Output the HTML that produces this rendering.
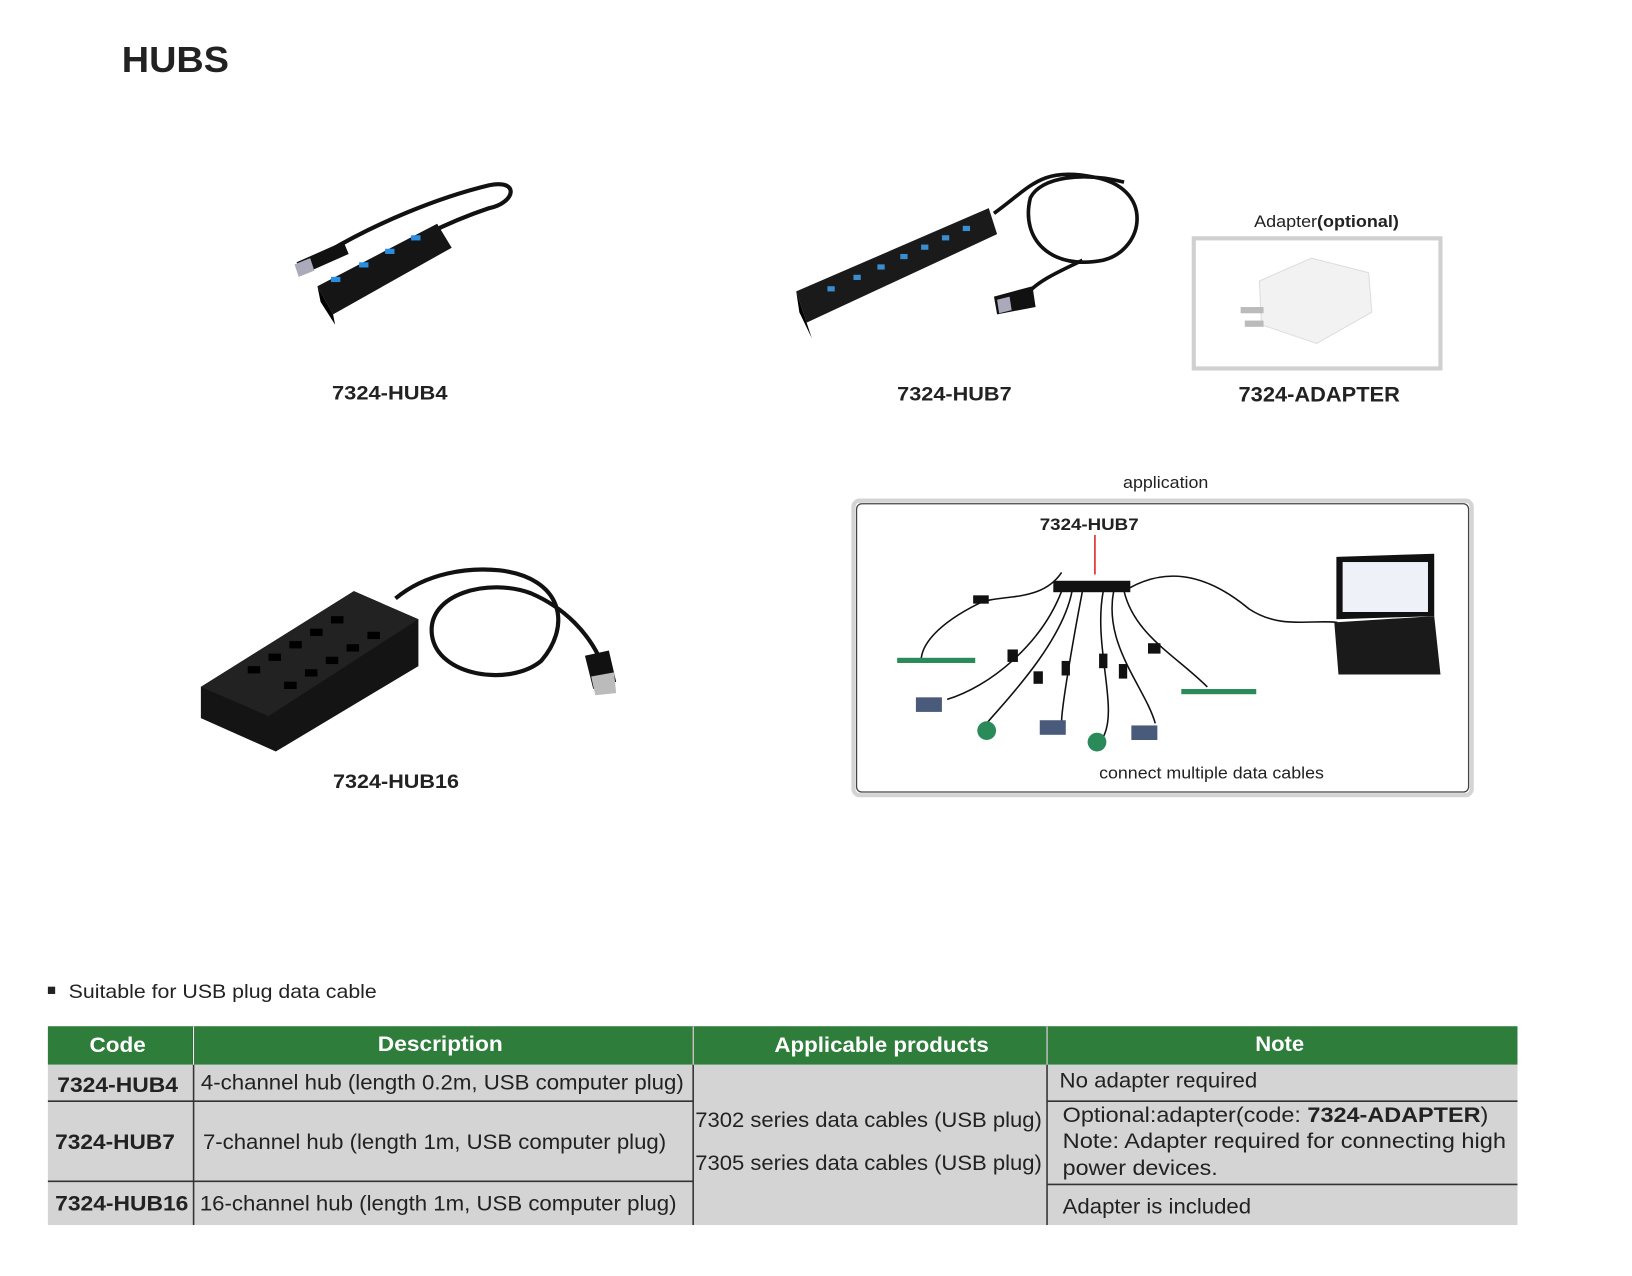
<!DOCTYPE html>
<html><head><meta charset="utf-8"><style>
html,body{margin:0;padding:0;background:#fff;width:1632px;height:1276px;overflow:hidden}
svg{display:block}
text{font-family:"Liberation Sans",Arial,sans-serif}
</style></head><body>
<svg width="1632" height="1276" viewBox="0 0 1632 1276" xmlns="http://www.w3.org/2000/svg">
<g transform="scale(1.0408)">
<text x="117" y="69" font-size="35" font-weight="bold" fill="#222" textLength="103" lengthAdjust="spacingAndGlyphs">HUBS</text>

<!-- HUB4 -->
<path d="M315,242 C360,215 420,190 470,178 C500,172 495,195 470,200 C440,210 420,220 410,225" fill="none" stroke="#111" stroke-width="4"/>
<polygon points="285,252 330,232 335,244 290,264" fill="#111"/>
<polygon points="283,254 298,248 302,260 287,266" fill="#aab"/>
<polygon points="305,275 420,215 434,238 320,302" fill="#151515"/>
<polygon points="305,275 320,302 322,312 308,290" fill="#000"/>
<g fill="#2a8ee0"><rect x="318" y="266" width="9" height="5"/><rect x="345" y="252" width="9" height="5"/><rect x="370" y="239" width="9" height="5"/><rect x="395" y="226" width="9" height="5"/></g>
<text x="319" y="384" font-size="19" font-weight="bold" fill="#222" textLength="111" lengthAdjust="spacingAndGlyphs">7324-HUB4</text>

<!-- HUB7 -->
<path d="M955,205 C990,180 1000,160 1050,170 C1110,180 1100,240 1060,250 C1010,260 980,230 990,190 C1000,170 1040,165 1080,175 M1040,250 C1020,260 995,270 985,285" fill="none" stroke="#111" stroke-width="3.5"/>
<polygon points="955,285 992,275 995,295 958,302" fill="#111"/>
<polygon points="958,288 970,285 972,298 960,301" fill="#aab"/>
<polygon points="765,280 950,200 958,225 775,310" fill="#1a1a1a"/>
<polygon points="765,280 775,310 780,325 768,300" fill="#000"/>
<g fill="#3a8ed0"><rect x="795" y="275" width="7" height="5"/><rect x="820" y="264" width="7" height="5"/><rect x="843" y="254" width="7" height="5"/><rect x="865" y="244" width="7" height="5"/><rect x="885" y="235" width="7" height="5"/><rect x="905" y="226" width="7" height="5"/><rect x="925" y="217" width="7" height="5"/></g>
<text x="862" y="385" font-size="19" font-weight="bold" fill="#222" textLength="110" lengthAdjust="spacingAndGlyphs">7324-HUB7</text>

<!-- Adapter -->
<text x="1205" y="218" font-size="16" fill="#222" textLength="139" lengthAdjust="spacingAndGlyphs">Adapter<tspan font-weight="bold">(optional)</tspan></text>
<rect x="1147" y="229" width="237" height="125" fill="#fff" stroke="#d0d0d0" stroke-width="4"/>
<polygon points="1210,270 1260,248 1315,262 1318,300 1265,330 1212,312" fill="#f2f2f2" stroke="#ddd"/>
<rect x="1192" y="295" width="22" height="6" fill="#bbb"/><rect x="1196" y="308" width="18" height="6" fill="#bbb"/>
<text x="1190" y="386" font-size="20" font-weight="bold" fill="#222" textLength="155" lengthAdjust="spacingAndGlyphs">7324-ADAPTER</text>

<!-- HUB16 -->
<path d="M380,575 C410,550 450,545 480,548 C540,555 550,600 520,635 C490,660 420,650 415,610 C410,570 470,555 510,570 C545,585 565,610 575,630" fill="none" stroke="#111" stroke-width="4"/>
<polygon points="562,630 585,625 592,655 570,662" fill="#111"/>
<polygon points="568,650 590,646 592,666 572,668" fill="#bbb"/>
<polygon points="193,660 340,568 402,595 402,640 265,722 193,690" fill="#141414"/>
<polygon points="193,660 340,568 402,595 258,688" fill="#222"/>
<g fill="#000">
<rect x="238" y="640" width="12" height="7"/><rect x="258" y="628" width="12" height="7"/><rect x="278" y="616" width="12" height="7"/><rect x="298" y="604" width="12" height="7"/><rect x="318" y="592" width="12" height="7"/>
<rect x="273" y="655" width="12" height="7"/><rect x="293" y="643" width="12" height="7"/><rect x="313" y="631" width="12" height="7"/><rect x="333" y="619" width="12" height="7"/><rect x="353" y="607" width="12" height="7"/>
</g>
<text x="320" y="757" font-size="19" font-weight="bold" fill="#222" textLength="121" lengthAdjust="spacingAndGlyphs">7324-HUB16</text>

<!-- application -->
<text x="1079" y="469" font-size="16" fill="#222" textLength="82" lengthAdjust="spacingAndGlyphs">application</text>
<rect x="820" y="481" width="594" height="283" rx="6" fill="#fff" stroke="#d4d4d4" stroke-width="4"/>
<rect x="823" y="484" width="588" height="277" rx="5" fill="none" stroke="#444" stroke-width="1.2"/>
<text x="999" y="509" font-size="16" font-weight="bold" fill="#222" textLength="95" lengthAdjust="spacingAndGlyphs">7324-HUB7</text>
<line x1="1052" y1="514" x2="1052" y2="552" stroke="#e02020" stroke-width="1.5"/>
<g fill="none" stroke="#111" stroke-width="1.5">
<path d="M1020,550 C1000,580 960,570 940,580 C900,600 885,620 885,635"/>
<path d="M1020,568 C1000,620 950,660 910,672"/>
<path d="M1030,568 C1020,620 960,680 948,695"/>
<path d="M1040,568 C1030,620 1020,680 1020,693"/>
<path d="M1060,568 C1050,620 1075,680 1060,708"/>
<path d="M1070,568 C1060,620 1100,660 1110,695"/>
<path d="M1080,568 C1090,610 1130,630 1160,660"/>
<path d="M1085,565 C1130,540 1170,560 1200,585 C1230,605 1260,595 1285,598"/>
</g>
<rect x="1012" y="558" width="74" height="11" fill="#111"/>
<g fill="#111"><rect x="935" y="572" width="15" height="8"/><rect x="968" y="624" width="10" height="12"/><rect x="993" y="645" width="9" height="12"/><rect x="1020" y="635" width="8" height="14"/><rect x="1056" y="628" width="8" height="14"/><rect x="1075" y="638" width="8" height="14"/><rect x="1103" y="618" width="12" height="10"/></g>
<g fill="#2a8a5a"><rect x="862" y="632" width="75" height="5"/><rect x="1135" y="662" width="72" height="5"/><circle cx="948" cy="702" r="9"/><circle cx="1054" cy="713" r="9"/></g>
<g fill="#4a5a7a"><rect x="880" y="670" width="25" height="14"/><rect x="999" y="692" width="25" height="14"/><rect x="1087" y="697" width="25" height="14"/></g>
<polygon points="1284,535 1378,532 1378,592 1284,595" fill="#111"/>
<rect x="1290" y="540" width="82" height="48" fill="#eef2f8"/>
<polygon points="1282,598 1378,592 1384,648 1286,648" fill="#1a1a1a"/>
<text x="1056" y="748" font-size="16" fill="#222" textLength="216" lengthAdjust="spacingAndGlyphs">connect multiple data cables</text>

<!-- bullet -->
<rect x="46" y="948" width="7" height="7" fill="#222"/>
<text x="66" y="959" font-size="19" fill="#222" textLength="296" lengthAdjust="spacingAndGlyphs">Suitable for USB plug data cable</text>

<!-- table -->
<rect x="46" y="986" width="1412" height="37" fill="#2e7d3a"/>
<rect x="46" y="1023" width="1412" height="154" fill="#d4d4d4"/>
<g stroke="#333" stroke-width="1.5">
<line x1="186" y1="986" x2="186" y2="1177"/><line x1="666" y1="986" x2="666" y2="1177"/><line x1="1006" y1="986" x2="1006" y2="1177"/>
<line x1="46" y1="1058" x2="666" y2="1058"/><line x1="46" y1="1135" x2="666" y2="1135"/>
<line x1="1006" y1="1058" x2="1458" y2="1058"/><line x1="1006" y1="1138" x2="1458" y2="1138"/>
</g>
<g stroke="#fff" stroke-width="1"><line x1="186" y1="986" x2="186" y2="1023"/><line x1="666" y1="986" x2="666" y2="1023"/><line x1="1006" y1="986" x2="1006" y2="1023"/></g>
<g font-size="20" font-weight="bold" fill="#fff">
<text x="86" y="1011" textLength="54" lengthAdjust="spacingAndGlyphs">Code</text>
<text x="363" y="1010" textLength="120" lengthAdjust="spacingAndGlyphs">Description</text>
<text x="744" y="1011" textLength="206" lengthAdjust="spacingAndGlyphs">Applicable products</text>
<text x="1206" y="1010" textLength="47" lengthAdjust="spacingAndGlyphs">Note</text>
</g>
<g font-size="20" fill="#222">
<text x="55" y="1049" font-weight="bold" textLength="116" lengthAdjust="spacingAndGlyphs">7324-HUB4</text>
<text x="53" y="1104" font-weight="bold" textLength="115" lengthAdjust="spacingAndGlyphs">7324-HUB7</text>
<text x="53" y="1163" font-weight="bold" textLength="128" lengthAdjust="spacingAndGlyphs">7324-HUB16</text>
<text x="193" y="1047" textLength="464" lengthAdjust="spacingAndGlyphs">4-channel hub (length 0.2m, USB computer plug)</text>
<text x="195" y="1104" textLength="445" lengthAdjust="spacingAndGlyphs">7-channel hub (length 1m, USB computer plug)</text>
<text x="192" y="1163" textLength="458" lengthAdjust="spacingAndGlyphs">16-channel hub (length 1m, USB computer plug)</text>
<text x="668" y="1083" textLength="333" lengthAdjust="spacingAndGlyphs">7302 series data cables (USB plug)</text>
<text x="668" y="1124" textLength="333" lengthAdjust="spacingAndGlyphs">7305 series data cables (USB plug)</text>
<text x="1018" y="1045" textLength="190" lengthAdjust="spacingAndGlyphs">No adapter required</text>
<text x="1021" y="1078" textLength="409" lengthAdjust="spacingAndGlyphs">Optional:adapter(code: <tspan font-weight="bold">7324-ADAPTER</tspan>)</text>
<text x="1021" y="1103" textLength="426" lengthAdjust="spacingAndGlyphs">Note: Adapter required for connecting high</text>
<text x="1021" y="1129" textLength="149" lengthAdjust="spacingAndGlyphs">power devices.</text>
<text x="1021" y="1166" textLength="181" lengthAdjust="spacingAndGlyphs">Adapter is included</text>
</g>
</g>
</svg>
</body></html>
